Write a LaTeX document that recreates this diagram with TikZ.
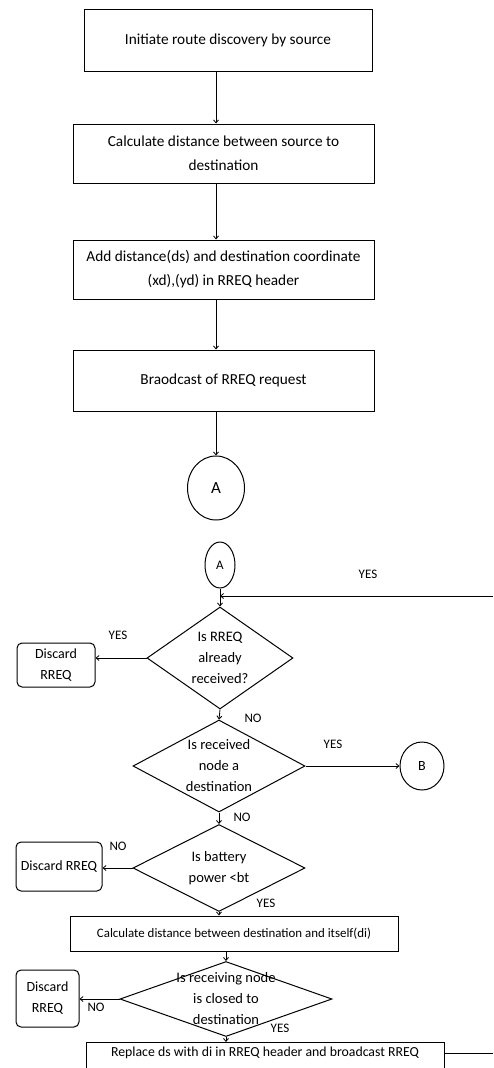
\documentclass[tikz,border=0pt]{standalone}
\usepackage{fontspec}
\setmainfont{Carlito}
\usetikzlibrary{shapes.geometric,arrows.meta}
\begin{document}
\begin{tikzpicture}[x=1pt,y=-1pt,
 box/.style={draw, line width=1pt, inner sep=0pt, align=center, font=\fontsize{15.3}{24}\selectfont},
 dia/.style={draw, diamond, line width=1pt, inner sep=0pt},
 dtext/.style={align=center, inner sep=0pt, font=\fontsize{14.5}{21}\selectfont},
 disc/.style={draw, rounded corners=5pt, line width=1pt, align=center, inner sep=0pt, font=\fontsize{14}{21}\selectfont},
 conn/.style={draw, ellipse, line width=1pt, inner sep=0pt},
 arr/.style={-{Straight Barb[length=3pt,width=5pt]}, line width=0.8pt},
 ln/.style={line width=0.8pt},
 lab/.style={font=\fontsize{13}{15}\selectfont, inner sep=0pt}
]
\useasboundingbox (0,0) rectangle (493,1068);
\clip (0,0) rectangle (493,1068);

\node[box, minimum width=288, minimum height=62] (b1) at (228,40) {Initiate route discovery by source};
\node[box, minimum width=301, minimum height=59] (b2) at (223.5,153.5) {Calculate distance between source to\\destination};
\node[box, minimum width=301, minimum height=59] (b3) at (223.5,269.5) {Add distance(ds) and destination coordinate\\(xd),(yd) in RREQ header};
\node[box, minimum width=301, minimum height=61] (b4) at (223.5,380.5) {Braodcast of RREQ request};
\node[conn, minimum width=57, minimum height=64, font=\fontsize{17}{20}\selectfont] (a1) at (216,488) {A};

\node[conn, minimum width=30, minimum height=46, font=\fontsize{13}{15}\selectfont] (a2) at (220,565) {A};
\node[dia, minimum width=146, minimum height=102] (d1) at (220,658) {};
\node[dtext] at (d1) {Is RREQ\\already\\received?};
\node[disc, minimum width=78, minimum height=44] (x1) at (56,665) {Discard\\RREQ};

\node[dia, minimum width=172, minimum height=92] (d2) at (219,766) {};
\node[dtext] at (d2) {Is received\\node a\\destination};
\node[conn, minimum width=44, minimum height=48, font=\fontsize{14}{16}\selectfont] (cb) at (422,766) {B};

\node[dia, minimum width=172, minimum height=87] (d3) at (219,868) {};
\node[dtext] at (d3) {Is battery\\power {<}bt};
\node[disc, minimum width=86, minimum height=49] (x2) at (59,866.5) {Discard RREQ};

\node[box, minimum width=328, minimum height=35, font=\fontsize{12.9}{15}\selectfont] (b5) at (234,933.5) {Calculate distance between destination and itself(di)};

\node[dia, minimum width=212, minimum height=75] (d4) at (226,999) {};
\node[dtext] at (d4) {Is receiving node\\is closed to\\destination};
\node[disc, minimum width=63, minimum height=57] (x3) at (47.5,998.5) {Discard\\RREQ};

\node[box, anchor=north, minimum width=358, inner ysep=4pt, text depth=30pt, font=\fontsize{13.8}{16}\selectfont] (b6) at (265,1042) {Replace ds with di in RREQ header and broadcast RREQ};

\coordinate (rin) at (493,596);
\coordinate (rout) at (493,1053);

\draw[arr] (b1.south -| a1) -- (b2.north -| a1);
\draw[arr] (b2.south -| a1) -- (b3.north -| a1);
\draw[arr] (b3.south -| a1) -- (b4.north -| a1);
\draw[arr] (b4.south -| a1) -- (a1.north);

\draw[arr] (a2.south) -- (d1.north);
\draw[arr] (rin) -- (rin -| a2);
\draw[arr] (d1.west) -- (d1.west -| x1.east);
\draw[arr] (d1.south) -- (d2.north);
\draw[arr] (d2.east) -- (cb.west);
\draw[arr] (d2.south) -- (d3.north);
\draw[arr] (d3.west) -- (d3.west -| x2.east);
\draw[arr] (d3.south) -- (d3.south |- b5.north);
\draw[arr] (d4.north |- b5.south) -- (d4.north);
\draw[arr] (d4.west) -- (d4.west -| x3.east);
\draw[arr] (d4.south) -- (d4.south |- b6.north);
\draw[ln] (rout -| b6.east) -- (rout);

\node[lab] (l1) at (368,574) {YES};
\node[lab] (l2) at (118,635) {YES};
\node[lab] (l3) at (253,718) {NO};
\node[lab] (l4) at (333,744) {YES};
\node[lab] (l5) at (242,817) {NO};
\node[lab] (l6) at (118,846) {NO};
\node[lab] (l7) at (266,903) {YES};
\node[lab] (l8) at (96,1007) {NO};
\node[lab] (l9) at (280,1028) {YES};
\end{tikzpicture}
\end{document}
